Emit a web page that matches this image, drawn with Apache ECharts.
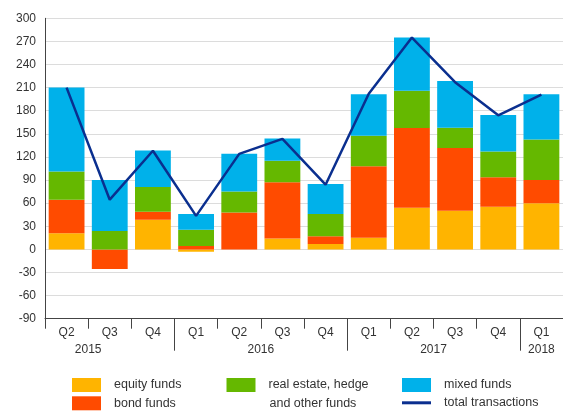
<!DOCTYPE html>
<html>
<head>
<meta charset="utf-8">
<script src="https://cdn.jsdelivr.net/npm/echarts@6/dist/echarts.min.js"></script>
<style>html,body{margin:0;padding:0;background:#fff}#c{width:563px;height:412px}</style>
</head>
<body>
<div id="c"></div>
<script>
var categories = ['Q2','Q3','Q4','Q1','Q2','Q3','Q4','Q1','Q2','Q3','Q4','Q1'];
var yearLabels = ['2015','2016','2017','2018'];
var yearLabelPos = [1, 5, 9, 11.5];
var yearBoundaries = [3, 7, 11];
var equity = [21, 0, 38.5, -3, 0, 14, 7, 15, 54, 50, 55.5, 60];
var bond   = [43.5, -25.5, 10.5, 4.5, 48, 73, 10, 93, 103.5, 81.5, 38, 30];
var realEstate = [36.5, 24, 32, 21, 27, 28, 29, 39.5, 48.5, 26.5, 33.5, 52.5];
var mixed  = [109, 66, 47.5, 20.5, 49, 29, 39, 54, 69, 60.5, 47.5, 59];
var total  = [210, 64.5, 128, 43.5, 124, 143.5, 84, 202, 275, 217, 174, 201];

var FONT = 'Liberation Sans';
var TXT = '#333';
var chart = echarts.init(document.getElementById('c'));
var legendCommon = {
  orient: 'vertical', top: 378, padding: 0, itemWidth: 29, itemHeight: 14, itemGap: 4.3,
  selectedMode: false,
  textStyle: {fontFamily: FONT, fontSize: 12.5, color: TXT, padding: [0,0,0,8]}
};
function barSeries(name, data, color) {
  return {name: name, type: 'bar', stack: 'a', data: data, barWidth: '83%',
    itemStyle: {color: color}, emphasis: {disabled: true}};
}
chart.setOption({
  animation: false,
  textStyle: {fontFamily: FONT},
  grid: {left: 45, right: 0, top: 18.3, bottom: 93.3, containLabel: false},
  xAxis: [{
    type: 'category', data: categories, position: 'bottom',
    axisLine: {onZero: false, lineStyle: {color: '#444', width: 1}},
    axisTick: {show: true, length: 10, lineStyle: {color: '#444'}},
    axisLabel: {color: TXT, fontSize: 12, margin: 8, fontFamily: FONT},
    splitLine: {show: false}
  }, {
    type: 'value', min: 0, max: 12, position: 'bottom',
    axisLine: {show: false, onZero: false},
    axisTick: {show: true, length: 32, customValues: yearBoundaries, lineStyle: {color: '#444'}},
    axisLabel: {show: true, customValues: yearLabelPos, color: TXT, fontSize: 12, margin: 25, fontFamily: FONT,
      formatter: function (v) { var i = yearLabelPos.indexOf(v); return i >= 0 ? yearLabels[i] : ''; }},
    splitLine: {show: false}
  }],
  yAxis: {
    type: 'value', min: -90, max: 300, interval: 30,
    axisLine: {show: true, lineStyle: {color: '#444'}},
    axisTick: {show: false},
    axisLabel: {color: TXT, fontSize: 12, margin: 9, fontFamily: FONT},
    splitLine: {lineStyle: {color: '#dcdcdc', width: 1}}
  },
  legend: [
    Object.assign({}, legendCommon, {left: 72, data: [{name: 'equity funds', icon: 'rect'}, {name: 'bond funds', icon: 'rect'}]}),
    Object.assign({}, legendCommon, {left: 226.5, data: [{name: 'real estate, hedge', icon: 'rect'}]}),
    Object.assign({}, legendCommon, {left: 402, data: [{name: 'mixed funds', icon: 'rect'}, {name: 'total transactions', icon: 'path://M0,0H29V3H0Z'}]})
  ],
  graphic: [{
    type: 'text', left: 269.5, top: 397,
    style: {text: 'and other funds', fill: TXT, font: '12.5px "Liberation Sans"'}
  }],
  series: [
    barSeries('equity funds', equity, '#FFB400'),
    barSeries('bond funds', bond, '#FF4B00'),
    barSeries('real estate, hedge', realEstate, '#65B800'),
    barSeries('mixed funds', mixed, '#00B1EA'),
    {name: 'total transactions', type: 'line', data: total, symbol: 'none',
      lineStyle: {color: '#0a2f8f', width: 2.5}, itemStyle: {color: '#0a2f8f'}, z: 5,
      emphasis: {disabled: true}}
  ]
});
</script>
</body>
</html>
